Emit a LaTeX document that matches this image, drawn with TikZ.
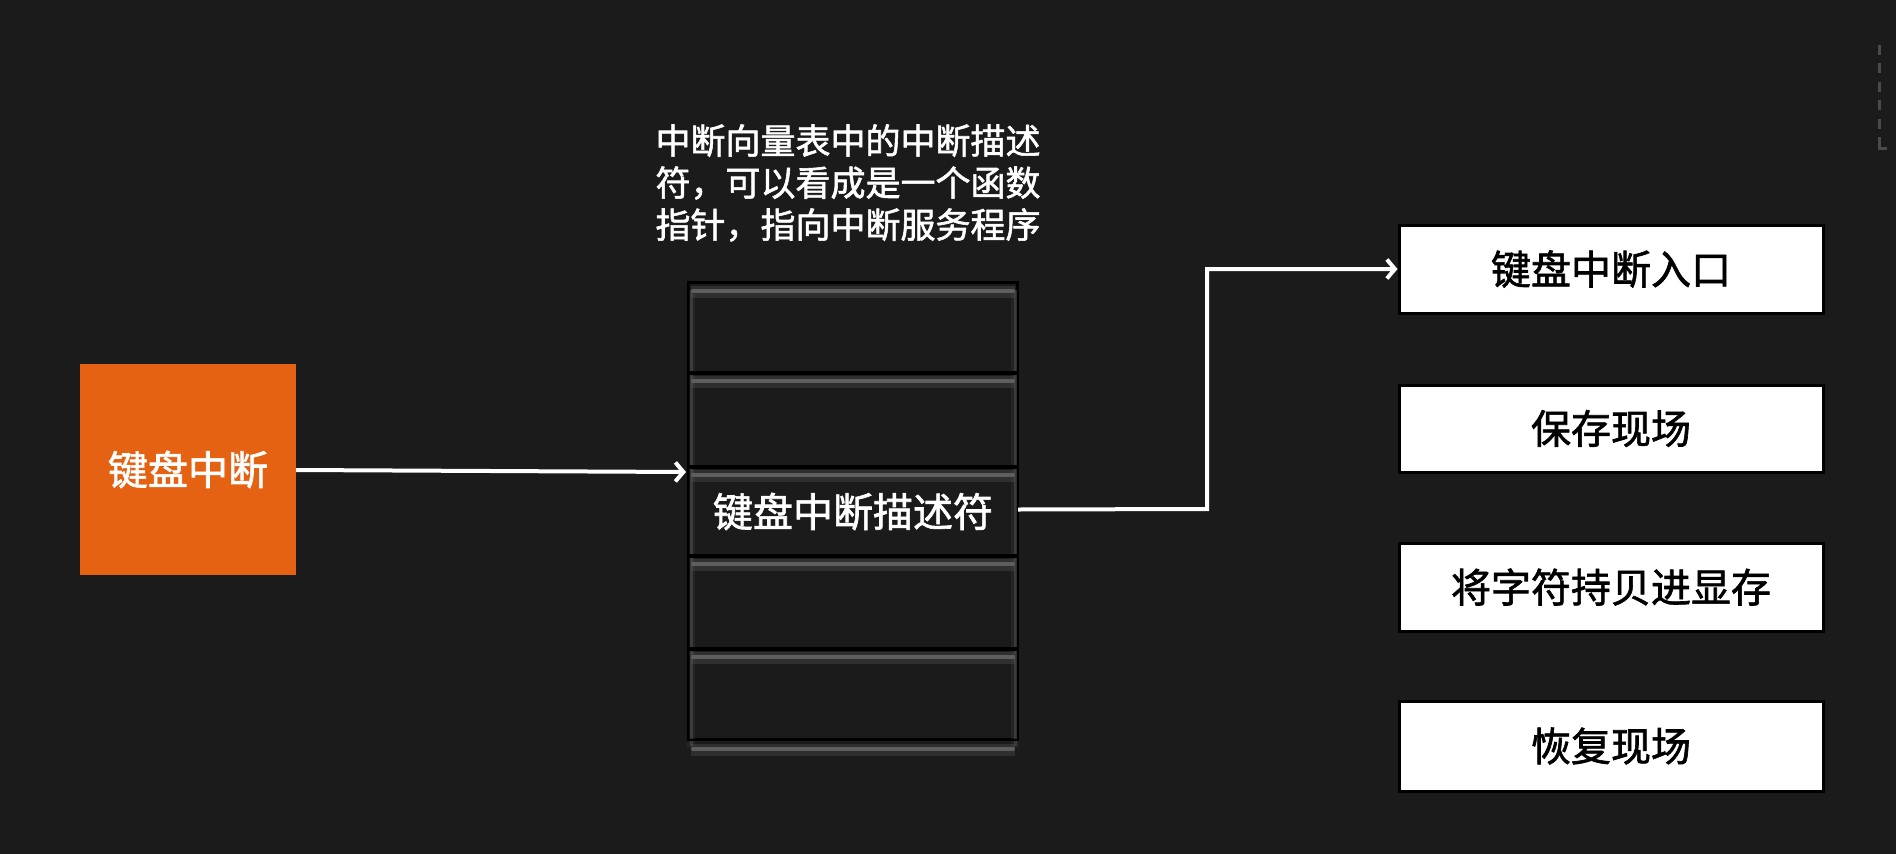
\documentclass[tikz,border=0pt]{standalone}
\usepackage{fontspec}
\setmainfont{Noto Sans CJK SC}[FakeBold=1.6]
\usetikzlibrary{arrows.meta,calc}

\definecolor{bgdark}{HTML}{1B1B1B}
\definecolor{kbdorange}{HTML}{E56212}
\definecolor{glowgray}{HTML}{5E5E5E}
\definecolor{dashgray}{HTML}{4A4A4A}

\tikzset{
  bigtext/.style={font=\fontsize{40}{44}\selectfont},
  srcbox/.style={fill=kbdorange, text=white, bigtext, inner sep=0pt,
                 minimum width=216pt, minimum height=211pt},
  cell/.style={draw=black, fill=bgdark, line width=2pt, inner sep=0pt,
               minimum width=328pt, text=white, bigtext},
  stepbox/.style={draw=black, fill=white, line width=3pt, inner sep=0pt,
                  minimum width=424pt, text=black, bigtext},
  glow/.style={glowgray, line width=4pt, line cap=round},
  glowsoft/.style={glowgray, line width=12pt, opacity=0.3},
  glowside/.style={glowgray, line width=3pt, opacity=0.4},
  glowsidesoft/.style={glowgray, line width=8pt, opacity=0.15},
  link/.style={white, line width=4pt,
               -{Straight Barb[length=8pt,width=19pt,line width=4pt]}},
  caption/.style={text=white, align=center,
                  font=\fontsize{35}{42}\selectfont, inner sep=0pt},
}

\begin{document}
\begin{tikzpicture}[x=1pt,y=-1pt]
  % canvas
  \fill[bgdark] (0,0) rectangle (1896,854);
  \useasboundingbox (0,0) rectangle (1896,854);

  % keyboard interrupt source
  \node[srcbox] (kbd) at (188,469.5) {键盘中断};

  % interrupt vector table: five descriptor slots
  \node[cell, minimum height=90pt] (c1) at (853,328) {};
  \node[cell, minimum height=94pt] (c2) at (853,420) {};
  \node[cell, minimum height=89pt] (c3) at (853,511.5) {键盘中断描述符};
  \node[cell, minimum height=93pt] (c4) at (853,602.5) {};
  \node[cell, minimum height=90pt] (c5) at (853,694) {};

  % soft shadows of the slots
  \begin{scope}
    \clip ($(c1.north west)+(-12,0)$) rectangle ($(c5.south east)+(12,20)$);
    \draw[glowsidesoft] ($(c1.north west)+(3,8)$) -- ($(c5.south west)+(3,8)$);
    \draw[glowsidesoft] ($(c1.north east)+(-3,8)$) -- ($(c5.south east)+(-3,8)$);
    \draw[glowside] ($(c1.north west)+(3,8)$) -- ($(c5.south west)+(3,6)$);
    \draw[glowside] ($(c1.north east)+(-3,8)$) -- ($(c5.south east)+(-3,6)$);
    \foreach \c in {c1,c2,c3,c4,c5}{
      \draw[glowsoft] ($(\c.north west)+(3,10)$) -- ($(\c.north east)+(-3,10)$);
      \draw[glow] ($(\c.north west)+(5,9)$) -- ($(\c.north east)+(-5,9)$);
    }
    \draw[glowsoft] ($(c5.south west)+(3,10)$) -- ($(c5.south east)+(-3,10)$);
    \draw[glow] ($(c5.south west)+(5,9)$) -- ($(c5.south east)+(-5,9)$);
  \end{scope}
  % slot borders over the shadows
  \foreach \c in {c1,c2,c3,c4,c5}{
    \draw[black, line width=2pt] (\c.north west) rectangle (\c.south east);
  }

  % table caption
  \node[caption] (cap) at (848,183)
    {中断向量表中的中断描述\\符，可以看成是一个函数\\指针，指向中断服务程序};

  % interrupt service routine steps
  \node[stepbox, minimum height=88pt] (s1) at (1611,269) {键盘中断入口};
  \node[stepbox, minimum height=87pt] (s2) at (1611,428.5) {保存现场};
  \node[stepbox, minimum height=88pt] (s3) at (1611,587) {将字符持贝进显存};
  \node[stepbox, minimum height=90pt] (s4) at (1611,746) {恢复现场};

  % connectors
  \coordinate (inA) at ($(c3.north west)+(-2,6)$);
  \draw[link] (kbd.east |- 0,470) -- (inA);
  \coordinate (outA) at ($(c3.east)+(0,-2)$);
  \coordinate (bend) at (1207,509);
  \draw[link] (outA) -- (bend) |- (s1.west);

  % dashed corner mark at the upper right edge
  \coordinate (d0) at (1879,45);
  \coordinate (d1) at (1879,137);
  \coordinate (d2) at (1879,148);
  \coordinate (d3) at (1887,148);
  \draw[dashgray, line width=3pt, dash pattern=on 10pt off 8.4pt] (d0) -- (d1);
  \draw[dashgray, line width=3pt] (d1) -- (d2) -- (d3);
\end{tikzpicture}
\end{document}
